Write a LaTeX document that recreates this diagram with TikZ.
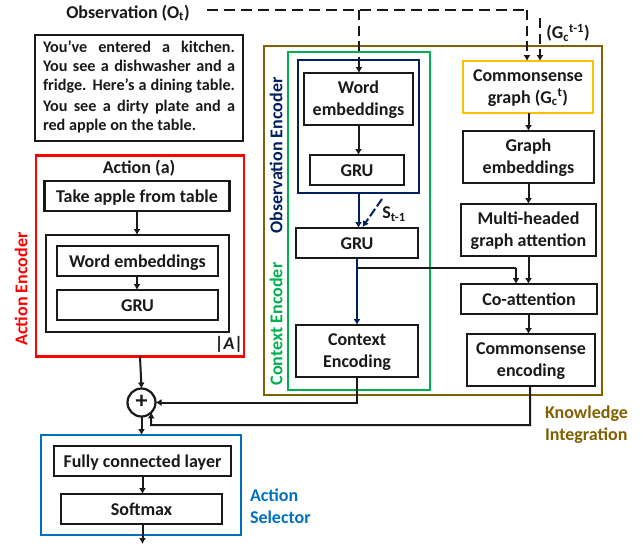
\documentclass[tikz,border=0pt]{standalone}
\usepackage{fontspec}
\setmainfont{Carlito}
\usetikzlibrary{arrows.meta,calc}
\definecolor{cred}{HTML}{FF0000}
\definecolor{cbrown}{HTML}{806000}
\definecolor{cgreen}{HTML}{00B050}
\definecolor{cnavy}{HTML}{002060}
\definecolor{cblue}{HTML}{0070C0}
\definecolor{cyellow}{HTML}{FFC000}
\tikzset{
  x=1pt,y=-1pt,
  every node/.style={font=\fontsize{18}{22}\selectfont\bfseries,inner sep=0pt,outer sep=0pt,align=center,text=black!90},
  bx/.style={draw=black!90,line width=2.2pt,fill=none},
  one/.style={text height=13pt,text depth=1pt},
  two/.style={text height=32pt,text depth=0pt},
  frame/.style={line width=2.2pt,fill=none},
  arr/.style={line width=2pt,draw=black!90,-{Latex[length=6pt,width=7pt]}},
  narr/.style={line width=2pt,draw=cnavy,-{Latex[length=6pt,width=7pt]}},
  dsh/.style={arr,line width=2.3pt,dash pattern=on 10pt off 5.5pt},
  wire/.style={line width=2pt,draw=black!90},
}
\newcommand{\jl}[1]{\makebox[192pt][s]{#1}}
\begin{document}
\begin{tikzpicture}
\useasboundingbox (0,0) rectangle (642,544);
% frames
\node[frame,draw=cred,minimum width=208pt,minimum height=201pt] (redf) at (140,256) {};
\node[frame,draw=cbrown,minimum width=338pt,minimum height=349pt] (brownf) at (433,220.5) {};
\node[frame,draw=cgreen,minimum width=142pt,minimum height=338pt] (greenf) at (359,221) {};
\node[frame,draw=cnavy,minimum width=121pt,minimum height=133pt] (navyf) at (358.5,126.5) {};
\node[frame,draw=cblue,minimum width=200pt,minimum height=100pt] (bluef) at (141,485) {};
% texts outside
\node (obs) at (128,13) {Observation (O\textsubscript{t})};
\node[bx,minimum width=208pt,minimum height=106pt] (story) at (139,88) {};
\node[anchor=north west,align=left,font=\fontsize{16.2}{19}\selectfont\bfseries] (storytext) at (43,41) {\jl{You’ve entered a kitchen.}\\\jl{You see a dishwasher and a}\\\jl{fridge. Here’s a dining table.}\\[2pt]\jl{You see a dirty plate and a}\\red apple on the table.};
% action encoder
\node (acttitle) at (139,168) {Action (a)};
\node[bx,one,minimum width=185pt,minimum height=30pt] (take) at (137,196) {Take apple from table};
\node[bx,minimum width=183pt,minimum height=97pt] (awrap) at (137.5,283.5) {};
\node[bx,one,minimum width=161pt,minimum height=30pt] (aword) at (137.5,261) {Word embeddings};
\node[bx,one,minimum width=161pt,minimum height=30pt] (agru) at (137.5,305) {GRU};
\node (card) at (229,344) {|\textit{A}|};
\node[rotate=90,text=cred] (aenc) at (21,289) {Action Encoder};
% plus
\node[circle,draw=black!90,line width=2.2pt,minimum size=28pt] (plus) at (141.5,402.5) {};
\node (plussign) at (141.5,401.5) {\fontsize{24}{24}\selectfont +};
% selector
\node[bx,one,minimum width=177pt,minimum height=30pt] (fc) at (142.5,461) {Fully connected layer};
\node[bx,one,minimum width=161pt,minimum height=30pt] (soft) at (141.5,509) {Softmax};
\coordinate (outp) at (142.5,544);
\node[text=cblue,align=left,anchor=west] (sel) at (250,506.5) {Action\\Selector};
% observation / context
\node[bx,two,minimum width=109pt,minimum height=52pt] (oword) at (358.5,99) {Word\\embeddings};
\node[bx,one,minimum width=94pt,minimum height=30pt] (ogru) at (357,170) {GRU};
\node[bx,one,minimum width=122pt,minimum height=30pt] (cgru) at (357,243) {GRU};
\node[bx,two,minimum width=122pt,minimum height=52pt] (cenc) at (357,351) {Context\\Encoding};
\node[rotate=90,text=cnavy] (oenc) at (276,155.5) {Observation Encoder};
\node[rotate=90,text=cgreen] (cenclab) at (276,324) {Context Encoder};
\node (stm) at (394,214) {S\textsubscript{t-1}};
% knowledge column
\node[frame,two,draw=cyellow,minimum width=130pt,minimum height=52pt] (cg) at (528,87) {Commonsense\\graph (G\textsubscript{c}\textsuperscript{t})};
\node[bx,two,minimum width=131pt,minimum height=52pt] (ge) at (528.5,157) {Graph\\embeddings};
\node[bx,two,minimum width=135pt,minimum height=52pt] (mh) at (528.5,230) {Multi-headed\\graph attention};
\node[bx,one,minimum width=136pt,minimum height=30pt] (coa) at (529,299) {Co-attention};
\node[bx,two,minimum width=128pt,minimum height=52pt] (cse) at (531,360) {Commonsense\\encoding};
\node (prev) at (568,33) {(G\textsubscript{c}\textsuperscript{t-1})};
\node[text=cbrown,align=left,anchor=west] (ki) at (545,425) {Knowledge\\Integration};
% helper coordinates
\coordinate (d0) at (207,10);
\coordinate (d1) at (527,10);
\coordinate (d2) at (359,10);
\coordinate (d3) at (540,18);
\coordinate (s0) at (382,199);
\coordinate (xw) at (358.5,0);
\coordinate (xg) at (516,268);
\coordinate (xa) at (137,0);
\coordinate (xs) at (142.5,0);
\coordinate (xk) at (528.5,0);
\coordinate (xc) at (357,268);
\coordinate (xp) at (151,0);
% dashed
\draw[wire,line width=2.3pt,dash pattern=on 11pt off 6pt] (d0) -- (d1);
\draw[dsh] (d1) -- (cg.north -| d1);
\draw[dsh] (d2) -- (oword.north -| d2);
\draw[dsh] (d3) -- (cg.north -| d3);
% connectors
\draw[arr] (take.south -| xa) -- (awrap.north -| xa);
\draw[arr] (aword.south -| xa) -- (agru.north -| xa);
\draw[arr] (oword.south -| xw) -- (ogru.north -| xw);
\draw[narr] (navyf.south -| xw) -- (cgru.north -| xw);
\draw[narr,dash pattern=on 9pt off 3pt] (s0) -- ($(cgru.north -| xw)+(4,-1)$);
\draw[narr] (cgru.south -| xc) -- (cenc.north -| xc);
\draw[wire] (xc) -- (xg);
\draw[arr] (xg) -- (coa.north -| xg);
\draw[arr] (cg.south -| xk) -- (ge.north -| xk);
\draw[arr] (ge.south -| xk) -- (mh.north -| xk);
\draw[arr] (mh.south -| xk) -- (coa.north -| xk);
\draw[arr] (coa.south -| xk) -- (cse.north -| xk);
\draw[arr] (redf.south) -- (plus.north);
\draw[arr] (plus.south) -- (bluef.north -| plus);
\draw[arr] (fc.south -| xs) -- (soft.north -| xs);
\draw[arr] (soft.south -| xs) -- (outp);
\draw[arr] (cenc.south) |- (plus.east);
\coordinate (kb) at (530,425);
\draw[arr] (cse.south -| kb) -- (kb) -- (xp |- kb) -- (plus.-45);
\end{tikzpicture}
\end{document}
